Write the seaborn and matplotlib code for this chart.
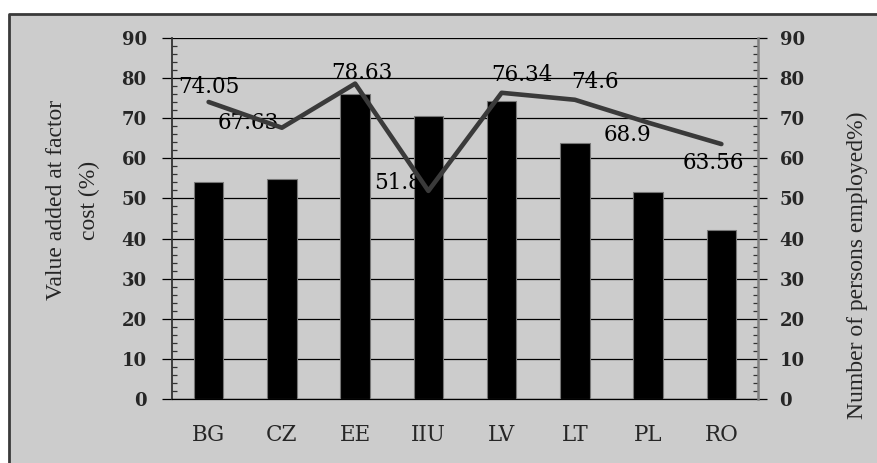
import numpy as np
import pandas as pd
import matplotlib
matplotlib.use('Agg')
import matplotlib.pyplot as plt
import seaborn as sns
from matplotlib.patches import Rectangle
from matplotlib.lines import Line2D
from matplotlib.ticker import MultipleLocator

# dados
countries = ['BG', 'CZ', 'EE', 'IIU', 'LV', 'LT', 'PL', 'RO']
value_added = [54.1, 54.9, 76.0, 70.6, 74.2, 63.9, 51.6, 42.1]
persons_employed = [74.05, 67.63, 78.63, 51.88, 76.34, 74.6, 68.9, 63.56]
point_labels = ['74.05', '67.63', '78.63', '51.88', '76.34', '74.6', '68.9', '63.56']

# deslocamento dos rotulos (pixels)
label_offsets = [(0, 15), (-34, 5), (7, 11), (-24, 8), (20, 18), (20, 18), (-21, -12), (-8, -19)]

df = pd.DataFrame({'country': countries, 'value': value_added, 'persons': persons_employed})

sns.set_style('white')
plt.rcParams['font.family'] = ['DejaVu Serif']

bg = '#cccccc'
fig = plt.figure(figsize=(8.77, 4.63), dpi=100)
fig.patch.set_facecolor(bg)
# moldura: faixa branca em cima e na esquerda, borda escura
x0 = 9 / 877
y1 = 1 - 14 / 463
fig.patches.append(Rectangle((0, y1), 1, 1 - y1, transform=fig.transFigure,
                             facecolor='white', edgecolor='none', zorder=-10))
fig.patches.append(Rectangle((0, 0), x0, 1, transform=fig.transFigure,
                             facecolor='white', edgecolor='none', zorder=-10))
fig.lines.append(Line2D([x0, x0, 1], [0, y1, y1], transform=fig.transFigure,
                        color='#3a3a3a', lw=2, zorder=-9))

ax = fig.add_axes([172 / 877, 64 / 463, 586 / 877, 361 / 463])
ax.set_facecolor(bg)
ax.patch.set_alpha(0)

sns.barplot(data=df, x='country', y='value', color='black', width=0.4,
            edgecolor='#777777', linewidth=0.8, ax=ax, zorder=3)
ax.set_ylim(0, 90)
ax.set_xlim(-0.5, 7.5)
ax.yaxis.set_major_locator(MultipleLocator(10))
ax.yaxis.set_minor_locator(MultipleLocator(2))
ax.grid(axis='y', which='major', color='black', lw=0.9, zorder=1)
ax.set_axisbelow(True)
ax.tick_params(axis='y', which='major', direction='out', length=7.2, width=0.9, color='black', pad=11,
               labelsize=13)
ax.tick_params(axis='y', which='minor', direction='in', length=3.6, width=0.9, color='#333333')
for t in ax.get_yticklabels():
    t.set_fontweight('bold')
ax.set_xticks(range(len(countries)))
ax.set_xticklabels(countries, fontsize=15.5)
ax.set_xticks(np.arange(-0.5, 8, 1), minor=True)
ax.tick_params(axis='x', which='major', length=0, pad=18)
ax.tick_params(axis='x', which='minor', direction='out', length=4.5, width=0.9, color='#333333')
ax.set_xlabel('')
ax.set_ylabel('')
for s in ['top', 'right']:
    ax.spines[s].set_visible(False)
ax.spines['left'].set_color('#333333')
ax.spines['left'].set_linewidth(1.3)
ax.spines['bottom'].set_color('black')
ax.spines['bottom'].set_linewidth(0.9)

ax2 = ax.twinx()
sns.lineplot(data=df, x='country', y='persons', color='#3a3a3a', lw=3.3, ax=ax2, zorder=5, sort=False)
ax2.set_ylim(0, 90)
ax2.yaxis.set_major_locator(MultipleLocator(10))
ax2.yaxis.set_minor_locator(MultipleLocator(2))
ax2.tick_params(axis='y', which='major', direction='out', length=6.5, width=0.9, color='black', pad=9,
                labelsize=13)
ax2.tick_params(axis='y', which='minor', direction='in', length=3.6, width=0.9, color='#333333')
for t in ax2.get_yticklabels():
    t.set_fontweight('bold')
ax2.set_ylabel('')
for s in ['top', 'left', 'bottom']:
    ax2.spines[s].set_visible(False)
ax2.spines['right'].set_color('#808080')
ax2.spines['right'].set_linewidth(1.8)

for i, (v, lab) in enumerate(zip(persons_employed, point_labels)):
    dx, dy = label_offsets[i]
    ax2.annotate(lab, (i, v), xytext=(dx * 0.72, dy * 0.72), textcoords='offset points',
                 ha='center', va='center', fontsize=15.5, color='black', zorder=4)

ax.text(-0.169, 0.551, 'Value added at factor\ncost (%)', transform=ax.transAxes, rotation=90,
        ha='center', va='center', multialignment='center', fontsize=17, linespacing=1.75,
        family='Liberation Serif')
ax2.text(1.169, 0.37, 'Number of persons employed%)', transform=ax2.transAxes, rotation=90,
         ha='center', va='center', fontsize=17, family='Liberation Serif')

fig.savefig('out.png', dpi=100, facecolor=bg)
